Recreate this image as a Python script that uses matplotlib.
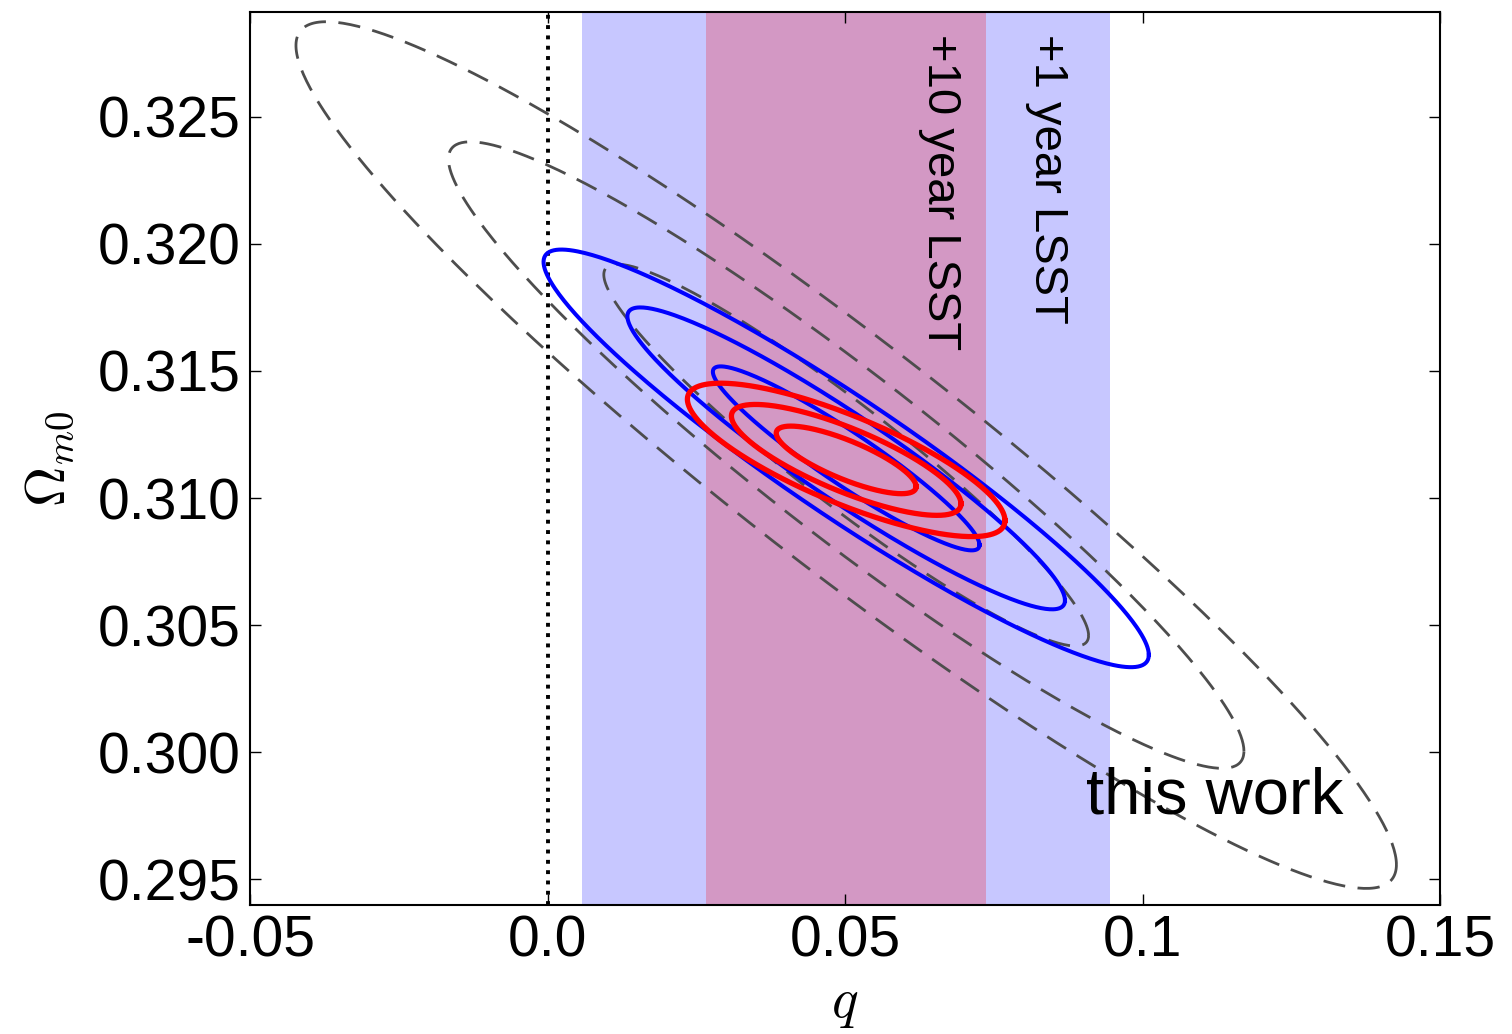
import numpy as np
import matplotlib
matplotlib.use("Agg")
import matplotlib.pyplot as plt

# ---------------- data ----------------
# Gaussian forecast parameters: centre (q, Omega_m0), sigma_q, sigma_Om, correlation
gray_center = [0.0502, 0.31169]
gray_sigma = [0.02689, 0.00496]
gray_rho = -0.945

blue_center = [0.0502, 0.31156]
blue_sigma = [0.01479, 0.00239]
blue_rho = -0.941

red_center = [0.0502, 0.31150]
red_sigma = [0.00776, 0.000878]
red_rho = -0.79

# contour radii (in sigma units) for 68.3%, 95.4%, 99.7% 2D regions
contour_levels = [1.515, 2.486, 3.439]

# marginal bands in q
band_1yr = [0.0058, 0.0945]
band_10yr = [0.0266, 0.0737]

xticks = [-0.05, 0.0, 0.05, 0.1, 0.15]
xticklabels = ["-0.05", "0.0", "0.05", "0.1", "0.15"]
yticks = [0.295, 0.300, 0.305, 0.310, 0.315, 0.320, 0.325]
yticklabels = ["0.295", "0.300", "0.305", "0.310", "0.315", "0.320", "0.325"]

# ---------------- plot ----------------
plt.rcParams['font.family'] = ['Liberation Sans', 'DejaVu Sans']
plt.rcParams['mathtext.fontset'] = 'cm'

fig = plt.figure(figsize=(15.12, 10.34), dpi=100)
ax = fig.add_axes([250/1512, 1 - 905/1034, (1440-250)/1512, (905-12)/1034])

ax.axvspan(band_1yr[0], band_1yr[1], color=(0, 0, 1), alpha=0.22, lw=0, zorder=0)
ax.axvspan(band_10yr[0], band_10yr[1], color=(1, 0, 0), alpha=0.23, lw=0, zorder=0.5)
ax.axvline(0.0, color='k', ls=':', lw=2.8, zorder=1)

t = np.linspace(0, 2*np.pi, 400)


def ellipse(center, sigma, rho, k):
    u = np.cos(t)
    v = np.sin(t)
    x = center[0] + k*sigma[0]*u
    y = center[1] + k*sigma[1]*(rho*u + np.sqrt(1 - rho**2)*v)
    return x, y


for k in contour_levels:
    x, y = ellipse(gray_center, gray_sigma, gray_rho, k)
    ax.plot(x, y, color='0.3', lw=2.0, ls=(0, (8, 4.5)), zorder=2)
for k in contour_levels:
    x, y = ellipse(blue_center, blue_sigma, blue_rho, k)
    ax.plot(x, y, color=(0, 0, 1), lw=2.9, zorder=3)
for k in contour_levels:
    x, y = ellipse(red_center, red_sigma, red_rho, k)
    ax.plot(x, y, color=(1, 0, 0), lw=3.8, zorder=4)

ax.text(0.0660, 0.32827, "+10 year LSST", rotation=-90, fontsize=34,
        ha='center', va='top', zorder=5)
ax.text(0.0840, 0.32827, "+1 year LSST", rotation=-90, fontsize=34,
        ha='center', va='top', zorder=5)
ax.text(0.0905, 0.2976, "this work", fontsize=47,
        ha='left', va='baseline', zorder=5)

ax.set_xlim(-0.05, 0.15)
ax.set_ylim(0.29398, 0.32913)
ax.set_xticks(xticks)
ax.set_xticklabels(xticklabels)
ax.set_yticks(yticks)
ax.set_yticklabels(yticklabels)
ax.tick_params(direction='in', length=8, width=1.0, labelsize=41, pad=7,
               top=True, right=True)
for s in ax.spines.values():
    s.set_linewidth(1.5)

ax.set_xlabel(r"$q$", fontsize=40, labelpad=7)
ax.set_ylabel(r"$\Omega_{m0}$", fontsize=40, labelpad=15)

fig.savefig("out.png", dpi=100)
